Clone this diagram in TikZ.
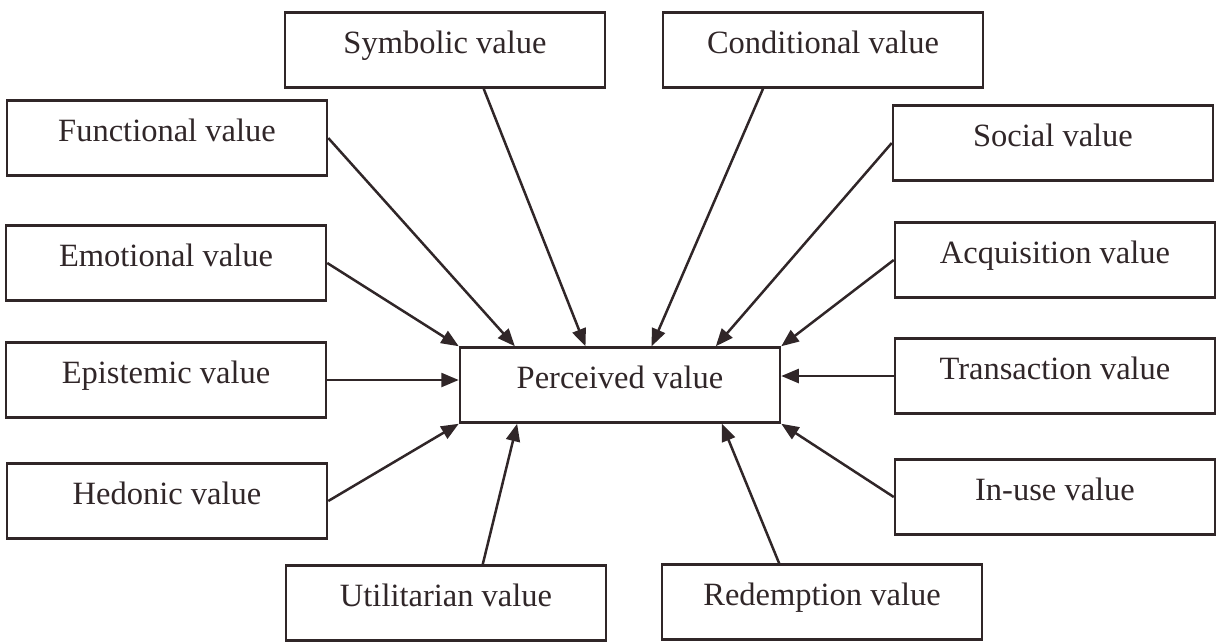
\documentclass[tikz,border=0pt]{standalone}
\usepackage{fontspec}
\setmainfont{Liberation Serif}
\usetikzlibrary{arrows.meta}
\usetikzlibrary{calc}
\definecolor{ink}{RGB}{48,38,40}
\tikzset{
    valuebox/.style={draw=ink, line width=1pt, minimum width=128pt, minimum height=30pt,
        inner sep=0pt, text=ink, font=\fontsize{13}{15}\selectfont, text height=6pt, text depth=3.2pt},
    feeds/.style={draw=ink, line width=1pt, -{Triangle[length=7pt,width=5.6pt]}}
}
\begin{document}
\begin{tikzpicture}[x=0.4pt,y=-0.4pt]
	\useasboundingbox (0,0) rectangle (1224,641);
	\node[valuebox] (pv) at (620,385) {Perceived value};
	\node[valuebox] (sym) at (445,50) {Symbolic value};
	\node[valuebox] (con) at (823,50) {Conditional value};
	\node[valuebox] (fun) at (167,138) {Functional value};
	\node[valuebox] (soc) at (1053,143) {Social value};
	\node[valuebox] (emo) at (166,263) {Emotional value};
	\node[valuebox] (acq) at (1055,260) {Acquisition value};
	\node[valuebox] (epi) at (166,380) {Epistemic value};
	\node[valuebox] (tra) at (1055,376) {Transaction value};
	\node[valuebox] (hed) at (167,501) {Hedonic value};
	\node[valuebox] (inu) at (1055,497) {In-use value};
	\node[valuebox] (uti) at (446,603) {Utilitarian value};
	\node[valuebox] (red) at (822,602) {Redemption value};
	% top row
	\draw[feeds] (fun.east)--($(pv.north west)!0.174!(pv.north east)$);
	\draw[feeds] ($(sym.south west)!0.62!(sym.south east)$)--($(pv.north west)!0.393!(pv.north east)$);
	\draw[feeds] ($(con.south west)!0.314!(con.south east)$)--($(pv.north west)!0.598!(pv.north east)$);
	\draw[feeds] (soc.west)--($(pv.north west)!0.797!(pv.north east)$);
	\draw[feeds] (emo.east)--(pv.north west);
	\draw[feeds] (acq.west)--(pv.north east);
	% sides
	\draw[feeds] (epi.east)--(epi.east -| pv.west);
	\draw[feeds] (tra.west)--(tra.west -| pv.east);
	% bottom row
	\draw[feeds] (hed.east)--(pv.south west);
	\draw[feeds] (inu.west)--(pv.south east);
	\draw[feeds] ($(uti.north west)!0.614!(uti.north east)$)--($(pv.south west)!0.181!(pv.south east)$);
	\draw[feeds] ($(red.north west)!0.367!(red.north east)$)--($(pv.south west)!0.816!(pv.south east)$);
\end{tikzpicture}
\end{document}
